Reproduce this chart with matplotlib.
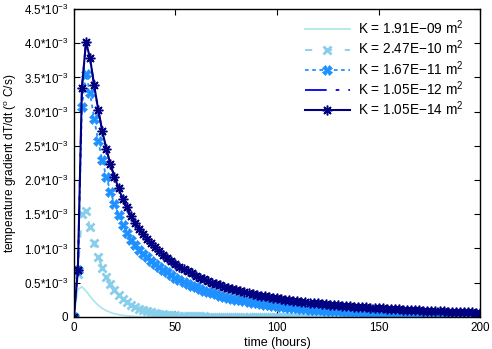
import numpy as np
import matplotlib
matplotlib.use('Agg')
import matplotlib.pyplot as plt
from matplotlib.ticker import FixedLocator, FuncFormatter

plt.rcParams['font.family'] = ['Liberation Sans', 'DejaVu Sans']
plt.rcParams['font.size'] = 8.5
plt.rcParams['mathtext.fontset'] = 'custom'
plt.rcParams['mathtext.rm'] = 'Liberation Sans'
plt.rcParams['mathtext.it'] = 'Liberation Sans'

# time in hours, one sample every 2 h
time_h = np.arange(0, 201, 2)

labels = ['K = 1.91E$-$09 m$^2$', 'K = 2.47E$-$10 m$^2$', 'K = 1.67E$-$11 m$^2$',
          'K = 1.05E$-$12 m$^2$', 'K = 1.05E$-$14 m$^2$']

# dT/dt in units of 1e-3 C/s
k_191e09 = [0, 0.40, 0.44, 0.38, 0.30, 0.23, 0.17, 0.125, 0.09, 0.065,
            0.047, 0.034, 0.024, 0.017, 0.012, 0.008, 0.006, 0.004, 0.003, 0.002,
            0.0015, 0.001, 0.0007, 0.0005, 0.0003, 0.0002, 0.0001] + [0] * 74

k_247e10 = [0, 0.62, 1.51, 1.55, 1.31, 1.08, 0.88, 0.72, 0.59, 0.48,
            0.39, 0.32, 0.265, 0.22, 0.18, 0.148, 0.122, 0.10, 0.083, 0.069,
            0.057, 0.047, 0.039, 0.032, 0.027, 0.022, 0.018, 0.015, 0.012, 0.010,
            0.008, 0.007, 0.006, 0.005, 0.004, 0.003, 0.0025, 0.002, 0.0016, 0.0013,
            0.001, 0.0008, 0.0006, 0.0005, 0.0004, 0.0003, 0.0002, 0.0001] + [0] * 53

k_167e11 = [0, 0.68, 3.07, 3.55, 3.27, 2.90, 2.57, 2.29, 2.05, 1.83,
            1.65, 1.49, 1.35, 1.23, 1.13, 1.05, 0.98, 0.92, 0.87, 0.82,
            0.77, 0.73, 0.69, 0.65, 0.61, 0.575, 0.54, 0.51, 0.48, 0.455,
            0.43, 0.41, 0.385, 0.365, 0.345, 0.33, 0.31, 0.295, 0.28, 0.265,
            0.25, 0.24, 0.228, 0.217, 0.206, 0.196, 0.187, 0.178, 0.170, 0.162,
            0.155, 0.148, 0.141, 0.135, 0.129, 0.123, 0.118, 0.113, 0.108, 0.104,
            0.100, 0.096, 0.092, 0.089, 0.086, 0.083, 0.080, 0.077, 0.074, 0.071,
            0.069, 0.066, 0.064, 0.062, 0.060, 0.058, 0.056, 0.054, 0.052, 0.050,
            0.048, 0.047, 0.045, 0.044, 0.042, 0.041, 0.039, 0.038, 0.037, 0.035,
            0.034, 0.033, 0.032, 0.031, 0.030, 0.029, 0.028, 0.027, 0.026, 0.025,
            0.024]

k_105e14 = [0, 0.68, 3.35, 4.02, 3.78, 3.39, 3.03, 2.72, 2.46, 2.23,
            2.05, 1.88, 1.73, 1.60, 1.48, 1.37, 1.29, 1.21, 1.14, 1.075,
            1.015, 0.96, 0.91, 0.86, 0.815, 0.775, 0.735, 0.70, 0.665, 0.635,
            0.605, 0.575, 0.55, 0.525, 0.50, 0.48, 0.46, 0.44, 0.42, 0.405,
            0.39, 0.375, 0.36, 0.345, 0.333, 0.321, 0.31, 0.299, 0.289, 0.279,
            0.27, 0.261, 0.252, 0.244, 0.236, 0.229, 0.222, 0.215, 0.208, 0.202,
            0.196, 0.19, 0.184, 0.179, 0.174, 0.170, 0.165, 0.160, 0.156, 0.151,
            0.147, 0.143, 0.139, 0.135, 0.131, 0.127, 0.124, 0.120, 0.117, 0.113,
            0.110, 0.107, 0.104, 0.101, 0.098, 0.096, 0.093, 0.090, 0.088, 0.085,
            0.083, 0.081, 0.078, 0.076, 0.074, 0.072, 0.070, 0.068, 0.066, 0.064,
            0.062]

# the 1.05E-12 case lies on top of the 1.05E-14 one
k_105e12 = list(k_105e14)

x_ticks = [0, 50, 100, 150, 200]
y_ticks = [0, 0.5, 1.0, 1.5, 2.0, 2.5, 3.0, 3.5, 4.0, 4.5]

fig = plt.figure(figsize=(4.92, 3.49), dpi=100)
ax = fig.add_axes([0.150, 0.092, 0.826, 0.882])

ax.plot(time_h, k_191e09, color='#a8e6ea', lw=1.2, label=labels[0])
ax.plot(time_h, k_247e10, color='#87ceeb', lw=1.3, dashes=(4, 7), marker='x',
        ms=6, mew=2, label=labels[1])
ax.plot(time_h, k_167e11, color='#1e90ff', lw=1.3, dashes=(2, 2), marker='X',
        ms=6.5, mew=0.5, label=labels[2])
ax.plot(time_h, k_105e12, color='#0000ee', lw=1.3, dashes=(12, 5, 2, 5), label=labels[3])
ax.plot(time_h, k_105e14, color='#000080', lw=1.5, marker=(8, 2, 0),
        ms=7, mew=1.1, label=labels[4])

ax.set_xlim(0, 200)
ax.set_ylim(0, 4.5)
ax.xaxis.set_major_locator(FixedLocator(x_ticks))
ax.yaxis.set_major_locator(FixedLocator(y_ticks))

def ylab(v, pos):
    if v == 0:
        return '0'
    return '%.1f*10$^{-3}$' % v

ax.yaxis.set_major_formatter(FuncFormatter(ylab))
ax.tick_params(direction='in', top=True, right=True, length=4, width=0.8,
               labelsize=8.4, pad=4)
for s in ax.spines.values():
    s.set_linewidth(1.0)

ax.set_xlabel('time (hours)', fontsize=9, labelpad=2)
ax.set_ylabel('temperature gradient dT/dt ($^\\mathrm{o}$ C/s)', fontsize=8.6, labelpad=3)

ax.legend(loc='upper right', bbox_to_anchor=(0.982, 1.0), frameon=False, fontsize=9.8,
          handlelength=3.3, handletextpad=0.6, labelspacing=0.12, borderaxespad=0.3)

fig.savefig('out.png', dpi=100)
